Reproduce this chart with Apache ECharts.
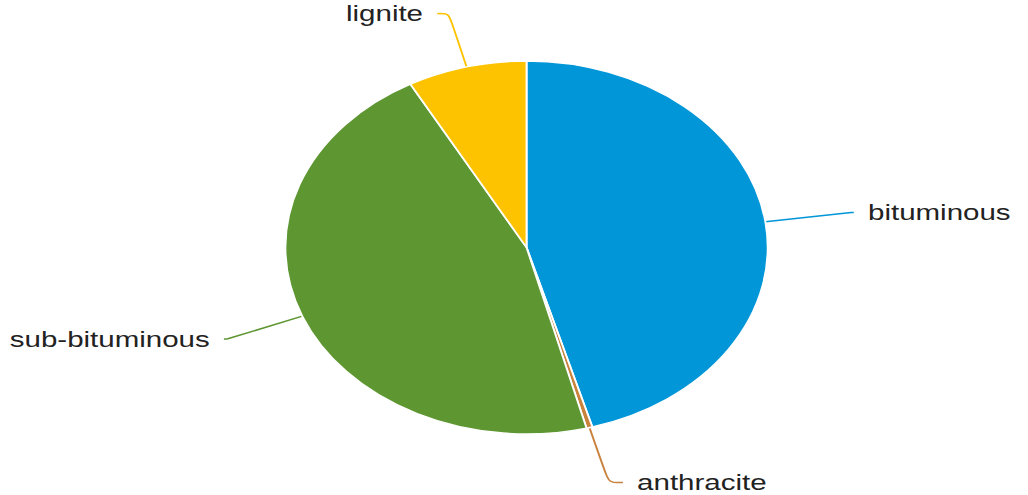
<!DOCTYPE html>
<html>
<head>
<meta charset="utf-8">
<script src="https://cdn.jsdelivr.net/npm/echarts@6/dist/echarts.min.js"></script>
<style>
html,body{margin:0;padding:0;background:#fff;overflow:hidden;width:1028px;height:495px;}
#chart{width:795px;height:495px;transform:scaleX(1.29308);transform-origin:0 0;}
</style>
</head>
<body>
<div id="chart"></div>
<script>
const categories = ['bituminous', 'anthracite', 'sub-bituminous', 'lignite'];
const values = [45.6, 0.4, 46.0, 8.0];
const colors = ['#0096D8', '#C8823C', '#5E9732', '#FDC300'];
const lineLen = [67, 57, 62, 55];
const lineLen2 = [2, 11, 3, 9];

const chart = echarts.init(document.getElementById('chart'), null, {renderer: 'svg'});
const data = categories.map((name, i) => ({
  name: name,
  value: values[i],
  itemStyle: {color: colors[i]},
  labelLine: {length: lineLen[i], length2: lineLen2[i]}
}));
chart.setOption({
  animation: false,
  series: [{
    type: 'pie',
    center: [407.2, 247.5],
    radius: 186.5,
    startAngle: 90,
    clockwise: true,
    avoidLabelOverlap: false,
    data: data,
    itemStyle: {borderColor: '#fff', borderWidth: 1.5},
    label: {
      show: true,
      position: 'outside',
      formatter: '{b}',
      fontFamily: 'Liberation Sans, Arial, sans-serif',
      fontSize: 22.8,
      lineHeight: 20,
      color: '#222',
      distanceToLabelLine: 11
    },
    labelLine: {show: true, smooth: 0.3, lineStyle: {width: 1.5}}
  }]
});
</script>
</body>
</html>
